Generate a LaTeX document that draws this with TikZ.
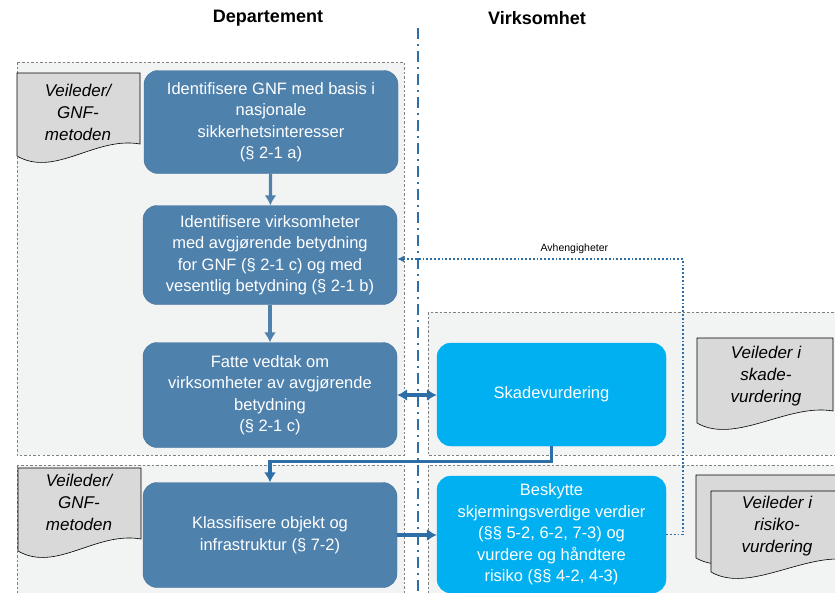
\documentclass[tikz,border=0pt]{standalone}
\usepackage{fontspec}
\setmainfont{Liberation Sans}
\usepackage{tikz}
\usetikzlibrary{calc,arrows.meta}
\tikzset{>={Latex[length=10pt,width=12pt]}}
\definecolor{Steel}{RGB}{79,129,173}
\definecolor{SteelLine}{RGB}{68,114,156}
\definecolor{SkyBox}{RGB}{0,176,240}
\definecolor{Link}{RGB}{46,110,166}
\definecolor{Area}{RGB}{242,243,243}
\definecolor{Sheet}{RGB}{217,217,217}
\tikzset{
  area/.style={fill=Area,draw=gray,dash pattern=on 2.5pt off 2pt,line width=0.6pt},
  depbox/.style={draw=SteelLine,fill=Steel,rounded corners=14pt,text=white,align=center,
    minimum width=254pt,font=\fontsize{16.5}{21.5}\selectfont},
  virkbox/.style={depbox,draw=SkyBox,fill=SkyBox,minimum width=229pt},
  sheetstyle/.style={fill=Sheet,draw=black,line width=0.6pt},
  sheettext/.style={align=center,font=\fontsize{17}{22}\selectfont\itshape},
  flow/.style={->,Steel,line width=3.2pt},
  link/.style={Link,line width=3.2pt},
}
% document shape: left x, top y, right x, bottom y of left side
\newcommand{\sheet}[4]{\filldraw[sheetstyle] (#1,#2) -- (#1,#4) .. controls +(38,22) and +(-45,-8) .. (#3,#4-12) -- (#3,#2) -- cycle;}

\begin{document}
\begin{tikzpicture}[x=1pt,y=-1pt]
  \useasboundingbox (0,0) rectangle (835,592);
  \clip (0,0) rectangle (835,592);
  % lanes
  \draw[area] (17,62) rectangle (404,455);
  \draw[area] (428,312) rectangle (850,455);
  \draw[area] (17,465) rectangle (404,610);
  \draw[area] (428,465) rectangle (850,610);
  \draw[Link,line width=1.6pt,dash pattern=on 11pt off 5pt on 2pt off 5pt] (418,28) -- (418,600);
  \node[font=\fontsize{18}{20}\selectfont\bfseries] (dephead) at (268,18) {Departement};
  \node[font=\fontsize{18}{20}\selectfont\bfseries] (virkhead) at (537,18) {Virksomhet};

  % guides
  \sheet{17}{73}{140}{156}
  \node[sheettext] (guide1) at (78,112) {Veileder/\\GNF-\\metoden};
  \sheet{18}{468}{141}{551}
  \node[sheettext] (guide2) at (79,502) {Veileder/\\GNF-\\metoden};
  \sheet{697}{338}{833}{423}
  \node[sheettext] (guide3) at (766,376) {Veileder i\\skade-\\vurdering};
  \sheet{696}{475}{850}{558}
  \sheet{711}{491}{850}{572}
  \node[sheettext] (guide4) at (777,526) {Veileder i\\risiko-\\vurdering};

  % steps
  \node[depbox,minimum height=103pt] (gnf) at (271,122) {Identifisere GNF med basis i\\nasjonale\\sikkerhetsinteresser\\(§ 2-1 a)};
  \node[depbox,minimum height=99pt] (virk) at (270,255) {Identifisere virksomheter\\med avgjørende betydning\\for GNF (§ 2-1 c) og med\\vesentlig betydning (§ 2-1 b)};
  \node[depbox,minimum height=105pt] (vedtak) at (270,395) {Fatte vedtak om\\virksomheter av avgjørende\\betydning\\(§ 2-1 c)};
  \node[depbox,minimum height=105pt] (klass) at (270,535) {Klassifisere objekt og\\infrastruktur (§ 7-2)};
  \node[virkbox,minimum height=103pt] (skade) at (551.5,394.5) {Skadevurdering};
  \node[virkbox,minimum height=117pt] (beskytt) at (551.5,534.5) {Beskytte\\skjermingsverdige verdier\\(§§ 5-2, 6-2, 7-3) og\\vurdere og håndtere\\risiko (§§ 4-2, 4-3)};

  % arrows
  \draw[flow] (gnf) -- (virk);
  \draw[flow] (virk) -- (vedtak);
  \draw[link,<->] (vedtak.east) -- (vedtak.east -| skade.west);
  \draw[link,->] (skade.south) -- ++(0,15) -| (klass.north);
  \draw[link,->] (klass.east) -- (klass.east -| beskytt.west);
  \coordinate (dep) at (683,259);
  \draw[Link,line width=1.8pt,dotted,-{Latex[length=7pt,width=7pt]}] (beskytt.east) -| (dep) -- (dep -| virk.east)
    node[pos=0.38,above=1pt,black,font=\fontsize{10.5}{12}\selectfont] (avh) {Avhengigheter};
\end{tikzpicture}
\end{document}
